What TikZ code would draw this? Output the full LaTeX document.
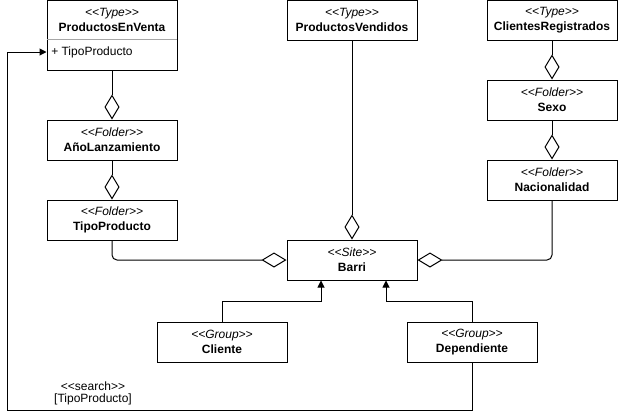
\documentclass[tikz,border=0pt]{standalone}
\usepackage{fontspec}
\setmainfont{Liberation Sans}
\usetikzlibrary{arrows.meta,calc}
\newcommand{\umlst}[2]{{\itshape <{}<#1>{}>}\\{\bfseries #2}}
\begin{document}
\begin{tikzpicture}[x=0.75pt,y=-0.75pt,
  every node/.style={font=\fontsize{9}{11.25}\selectfont},
  box/.style={draw, line width=0.75pt, minimum width=97.5pt, minimum height=30pt, inner sep=0pt, align=center},
  agg/.style={line width=0.75pt, -{Diamond[fill=white,length=18.75pt,width=11.25pt]}},
  gen/.style={line width=0.75pt, -{Triangle[length=5.25pt,width=5.25pt]}},
  plain/.style={line width=0.75pt}]
\useasboundingbox (0,0) rectangle (618,419);

% ProductosEnVenta (class with attribute)
\node[box, minimum height=52.5pt] (pev) at (112,35) {};
\node[align=center, inner sep=0pt] (pevt) at (112,19.5) {\umlst{Type}{ProductosEnVenta}};
\draw[line width=0.75pt, gray!70] (47,39) -- (177,39);
\node[anchor=west, inner sep=0pt] (pevattr) at (51,52) {+ TipoProducto};

\node[box] (ano)  at (112,140) {\umlst{Folder}{AñoLanzamiento}};
\node[box] (tipo) at (112,220) {\umlst{Folder}{TipoProducto}};
\node[box] (pv)   at (352,20)  {\umlst{Type}{ProductosVendidos}};
\node[box] (cr)   at (552,20)  {\umlst{Type}{ClientesRegistrados}};
\node[box] (sexo) at (552,100) {\umlst{Folder}{Sexo}};
\node[box] (nac)  at (552,180) {\umlst{Folder}{Nacionalidad}};
\node[box] (barri) at (352,260) {\umlst{Site}{Barri}};
\node[box] (cli)  at (222,342) {\umlst{Group}{Cliente}};
\node[box] (dep)  at (472,342) {\umlst{Group}{Dependiente}};

% aggregations
\draw[agg] (pev.south) -- (ano.north);
\draw[agg] (ano.south) -- (tipo.north);
\draw[agg, rounded corners=3.75pt] (tipo.south) |- (barri.west);
\draw[agg] (pv.south) -- (barri.north);
\draw[agg] (cr.south) -- (sexo.north);
\draw[agg] (sexo.south) -- (nac.north);
\draw[agg, rounded corners=3.75pt] (nac.south) |- (barri.east);

% generalizations
\coordinate (bcl) at ($(barri.south)+(-31,0)$);
\coordinate (bdp) at ($(barri.south)+(34,0)$);
\draw[gen] (cli.north) -- ++(0,-20) -| (bcl);
\draw[gen] (dep.north) -- ++(0,-20) -| (bdp);

% search
\coordinate (sc) at (7,410);
\draw[gen] (dep.south) |- (sc) |- (pev.west |- pevattr);
\node[inner sep=0pt] (slab1) at (93,386) {<{}<search>{}>};
\node[inner sep=0pt] (slab2) at (93,399) {[TipoProducto]};
\end{tikzpicture}
\end{document}
